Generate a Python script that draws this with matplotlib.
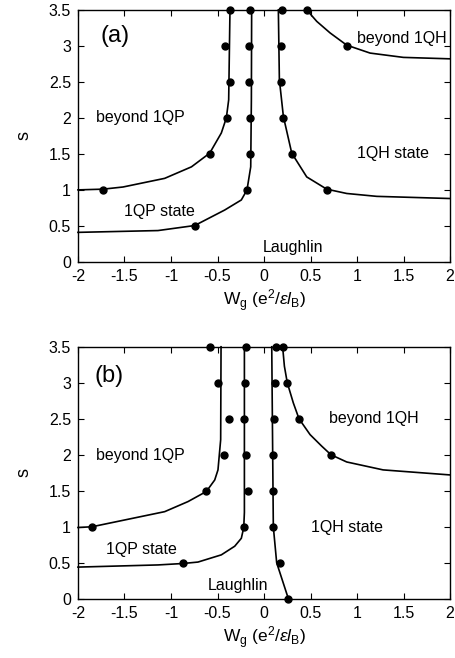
import numpy as np
import matplotlib
matplotlib.use('Agg')
import matplotlib.pyplot as plt

plt.rcParams['font.family'] = ['Liberation Sans', 'DejaVu Sans']
plt.rcParams['mathtext.fontset'] = 'custom'
plt.rcParams['mathtext.rm'] = 'Liberation Sans'
plt.rcParams['mathtext.it'] = 'Liberation Sans:italic'

# ---- panel (a) ----
a_qp_lo_x = [-2.0, -1.14, -0.745, -0.423, -0.244, -0.183, -0.143, -0.136, -0.133]
a_qp_lo_y = [0.41, 0.435, 0.505, 0.72, 0.86, 1.0, 1.32, 2.25, 3.5]
a_qp_hi_x = [-2.0, -1.73, -1.516, -1.068, -0.78, -0.584, -0.459, -0.405, -0.38, -0.366]
a_qp_hi_y = [1.0, 1.01, 1.04, 1.16, 1.32, 1.51, 1.79, 2.0, 2.25, 3.5]
a_qh_lo_x = [0.154, 0.165, 0.208, 0.298, 0.459, 0.674, 0.889, 1.212, 2.0]
a_qh_lo_y = [3.5, 2.53, 2.02, 1.51, 1.18, 1.01, 0.95, 0.91, 0.88]
a_qh_hi_x = [0.459, 0.567, 0.71, 0.889, 1.14, 1.498, 2.0]
a_qh_hi_y = [3.5, 3.34, 3.18, 3.01, 2.9, 2.84, 2.82]

a_dots_x = [-1.73, -0.745, -0.584, -0.40, -0.366, -0.42, -0.366,
            -0.183, -0.155, -0.155, -0.158, -0.158, -0.155,
            0.19, 0.18, 0.18, 0.208, 0.298, 0.674,
            0.459, 0.889]
a_dots_y = [1.0, 0.5, 1.5, 2.0, 2.5, 3.0, 3.5,
            1.0, 1.5, 2.0, 2.5, 3.0, 3.5,
            3.5, 3.0, 2.5, 2.0, 1.5, 1.0,
            3.5, 3.0]

# ---- panel (b) ----
b_qp_lo_x = [-2.0, -1.14, -0.871, -0.71, -0.459, -0.315, -0.244, -0.218, -0.211, -0.211]
b_qp_lo_y = [0.44, 0.47, 0.49, 0.51, 0.61, 0.73, 0.84, 0.99, 1.2, 3.5]
b_qp_hi_x = [-2.0, -1.85, -1.068, -0.817, -0.62, -0.53, -0.495, -0.466, -0.462]
b_qp_hi_y = [0.99, 1.0, 1.21, 1.35, 1.49, 1.65, 1.79, 2.21, 3.5]
b_qh_lo_x = [0.083, 0.10, 0.136, 0.262]
b_qh_lo_y = [3.5, 1.0, 0.5, 0.0]
b_qh_hi_x = [0.20, 0.219, 0.25, 0.315, 0.376, 0.495, 0.62, 0.72, 0.889, 1.28, 2.0]
b_qh_hi_y = [3.5, 3.23, 3.0, 2.72, 2.5, 2.28, 2.12, 2.0, 1.90, 1.79, 1.72]

b_dots_x = [-1.85, -0.871, -0.62, -0.43, -0.373, -0.491, -0.581,
            -0.211, -0.168, -0.194, -0.211, -0.204, -0.194,
            0.262, 0.172, 0.10, 0.10, 0.10, 0.111, 0.122, 0.133,
            0.25, 0.376, 0.72, 0.20]
b_dots_y = [1.0, 0.5, 1.5, 2.0, 2.5, 3.0, 3.5,
            1.0, 1.5, 2.0, 2.5, 3.0, 3.5,
            0.0, 0.5, 1.0, 1.5, 2.0, 2.5, 3.0, 3.5,
            3.0, 2.5, 2.0, 3.5]

a_labels = [('beyond 1QP', -1.33, 2.0), ('1QP state', -1.12, 0.70),
            ('Laughlin', 0.315, 0.2), ('1QH state', 1.39, 1.5),
            ('beyond 1QH', 1.48, 3.1)]
b_labels = [('beyond 1QP', -1.33, 1.99), ('1QP state', -1.315, 0.685),
            ('Laughlin', -0.276, 0.185), ('1QH state', 0.889, 0.986),
            ('beyond 1QH', 1.176, 2.5)]


def draw_panel(ax, lines, dx, dy, labels, tag, tag_pos):
    for lx, ly in lines:
        ax.plot(lx, ly, color='black', lw=1.2, clip_on=False)
    ax.plot(dx, dy, 'o', color='black', ms=5, clip_on=False, zorder=5)
    for txt, x, y in labels:
        ax.text(x, y, txt, ha='center', va='center', fontsize=11.5)
    ax.text(tag_pos[0], tag_pos[1], tag, ha='center', va='center', fontsize=17)
    ax.set_xlim(-2, 2)
    ax.set_ylim(0, 3.5)
    ax.set_xticks([-2, -1.5, -1, -0.5, 0, 0.5, 1, 1.5, 2])
    ax.set_xticklabels(['-2', '-1.5', '-1', '-0.5', '0', '0.5', '1', '1.5', '2'])
    ax.set_yticks([0, 0.5, 1, 1.5, 2, 2.5, 3, 3.5])
    ax.set_yticklabels(['0', '0.5', '1', '1.5', '2', '2.5', '3', '3.5'])
    ax.tick_params(direction='in', top=True, right=True, labelsize=11.5, length=4, pad=5)
    for sp in ax.spines.values():
        sp.set_linewidth(1.0)
    ax.set_xlabel(r'W$_\mathregular{g}$ (e$^\mathregular{2}$/$\epsilon l_\mathregular{B}$)', fontsize=12.5, labelpad=3)
    ax.set_ylabel('s', fontsize=13, labelpad=12)


fig = plt.figure(figsize=(4.56, 6.58), dpi=100)
ax1 = fig.add_axes([0.171, 0.602, 0.816, 0.383])
ax2 = fig.add_axes([0.171, 0.090, 0.816, 0.383])

draw_panel(ax1, [(a_qp_lo_x, a_qp_lo_y), (a_qp_hi_x, a_qp_hi_y),
                 (a_qh_lo_x, a_qh_lo_y), (a_qh_hi_x, a_qh_hi_y)],
           a_dots_x, a_dots_y, a_labels, '(a)', (-1.6, 3.14))
draw_panel(ax2, [(b_qp_lo_x, b_qp_lo_y), (b_qp_hi_x, b_qp_hi_y),
                 (b_qh_lo_x, b_qh_lo_y), (b_qh_hi_x, b_qh_hi_y)],
           b_dots_x, b_dots_y, b_labels, '(b)', (-1.67, 3.09))

fig.savefig('out.png', dpi=100)
